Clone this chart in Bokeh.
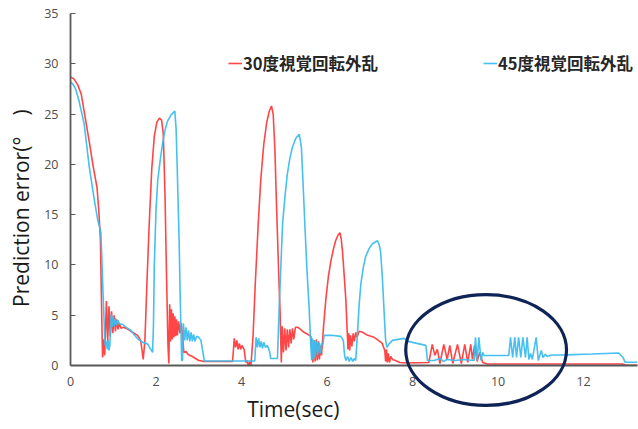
import numpy as np
from bokeh.plotting import figure
from bokeh.models import Range1d, FixedTicker, Legend, LegendItem
from bokeh.embed import file_html
from bokeh.resources import INLINE

# ---- data ----
red_t = [0.00, 0.08, 0.17, 0.25, 0.35, 0.44, 0.53, 0.62, 0.66, 0.70, 0.73, 0.75, 0.78, 0.80, 0.84, 0.87,
         0.90, 0.93, 0.96, 0.99, 1.02, 1.05, 1.08, 1.11, 1.14, 1.18, 1.24, 1.35, 1.45, 1.57, 1.64, 1.67,
         1.70, 1.74, 1.79, 1.84, 1.90, 1.96, 2.02, 2.08, 2.13, 2.17, 2.21, 2.25, 2.28, 2.30, 2.32, 2.34,
         2.36, 2.38, 2.40, 2.42, 2.44, 2.46, 2.48, 2.50, 2.53, 2.56, 2.59, 2.62, 2.65, 2.70, 2.75, 2.85,
         3.00, 3.13, 3.50, 3.79, 3.83, 3.86, 3.89, 3.92, 3.95, 3.98, 4.01, 4.06, 4.10, 4.12, 4.16, 4.19,
         4.22, 4.27, 4.32, 4.39, 4.45, 4.52, 4.59, 4.65, 4.70, 4.74, 4.78, 4.81, 4.84, 4.87, 4.90, 4.93,
         4.95, 4.98, 5.01, 5.04, 5.07, 5.10, 5.13, 5.16, 5.19, 5.22, 5.26, 5.31, 5.38, 5.46, 5.55, 5.62,
         5.65, 5.67, 5.70, 5.72, 5.75, 5.77, 5.80, 5.82, 5.85, 5.87, 5.92, 5.97, 6.03, 6.09, 6.15, 6.20,
         6.26, 6.30, 6.33, 6.36, 6.40, 6.44, 6.47, 6.49, 6.51, 6.53, 6.55, 6.58, 6.61, 6.64, 6.67, 6.70,
         6.75, 6.83, 6.95, 7.10, 7.20, 7.29, 7.35, 7.37, 7.39, 7.41, 7.43, 7.46, 7.49, 7.53, 7.60, 7.70,
         7.88, 8.38, 8.46, 8.52, 8.58, 8.64, 8.73, 8.81, 8.87, 8.94, 9.05, 9.14, 9.22, 9.29, 9.36, 9.40,
         9.45, 9.51, 9.57, 9.64, 9.75, 12.90, 13.00, 13.26]
red_y = [28.7, 28.5, 27.9, 27.0, 24.5, 22.2, 19.8, 17.7, 15.5, 12.5, 5.0, 0.8, 2.6, 1.0, 6.4, 2.4,
         5.9, 2.9, 5.4, 3.2, 5.0, 3.4, 4.6, 3.6, 4.2, 3.7, 3.8, 3.6, 3.3, 3.0, 2.5, 1.6,
         0.6, 2.5, 8.5, 14.0, 19.5, 22.8, 24.2, 24.6, 24.4, 23.0, 17.0, 8.0, 2.0, 0.2, 6.1, 2.4,
         5.6, 2.6, 5.2, 2.8, 4.9, 2.9, 4.6, 3.0, 4.4, 3.2, 4.2, 3.0, 1.3, 1.4, 1.1, 0.9,
         0.5, 0.4, 0.4, 0.4, 2.7, 1.8, 2.5, 1.6, 2.2, 1.6, 2.0, 1.6, 0.3, 0.5, 0.0, 0.4,
         0.0, 3.0, 8.0, 14.1, 18.5, 22.0, 24.2, 25.3, 25.8, 25.0, 21.5, 17.0, 13.0, 9.0, 5.5, 0.3,
         3.9, 1.3, 3.7, 1.5, 3.6, 1.8, 3.6, 2.2, 3.7, 2.6, 3.8, 3.8, 3.6, 3.3, 3.1, 2.9,
         1.5, 0.3, 2.5, 0.4, 2.6, 0.5, 2.4, 0.6, 2.0, 1.0, 4.0, 6.5, 8.8, 10.4, 11.6, 12.4,
         13.0, 13.2, 12.6, 11.4, 9.0, 6.5, 3.5, 1.6, 3.2, 1.5, 3.0, 1.9, 3.2, 2.4, 3.3, 2.8,
         3.4, 3.3, 3.0, 2.8, 2.5, 2.2, 1.5, 0.4, 1.6, 0.3, 1.2, 0.3, 0.9, 0.6, 0.5, 0.3,
         0.25, 0.3, 2.1, 1.0, 1.6, 0.2, 2.1, 0.6, 2.0, 0.2, 2.1, 0.2, 2.1, 0.3, 2.1, 0.6,
         2.0, 0.4, 1.3, 0.3, 0.15, 0.15, 0.02, 0.02]

blue_t = [0.00, 0.05, 0.12, 0.20, 0.32, 0.44, 0.56, 0.64, 0.68, 0.71, 0.73, 0.75, 0.78, 0.81, 0.84, 0.86,
          0.88, 0.90, 0.92, 0.95, 0.97, 0.99, 1.02, 1.05, 1.08, 1.11, 1.15, 1.22, 1.30, 1.41, 1.50, 1.57,
          1.69, 1.80, 1.85, 1.92, 1.94, 1.96, 2.00, 2.04, 2.10, 2.15, 2.21, 2.27, 2.35, 2.44, 2.47, 2.50,
          2.54, 2.57, 2.60, 2.62, 2.64, 2.67, 2.70, 2.73, 2.76, 2.79, 2.82, 2.85, 2.88, 2.91, 2.95, 3.00,
          3.05, 3.09, 3.13, 3.50, 4.31, 4.34, 4.37, 4.40, 4.43, 4.46, 4.49, 4.52, 4.56, 4.60, 4.65, 4.68,
          4.84, 4.88, 4.96, 5.02, 5.07, 5.13, 5.19, 5.27, 5.35, 5.40, 5.44, 5.48, 5.53, 5.58, 5.62, 5.64,
          5.66, 5.68, 5.70, 5.72, 5.75, 5.78, 5.81, 5.84, 5.87, 5.90, 5.93, 6.10, 6.32, 6.38, 6.41, 6.44,
          6.48, 6.52, 6.56, 6.60, 6.64, 6.67, 6.71, 6.75, 6.79, 6.85, 6.90, 6.98, 7.06, 7.18, 7.22, 7.25,
          7.29, 7.32, 7.35, 7.37, 7.40, 7.45, 7.53, 7.72, 7.80, 7.90, 8.10, 8.31, 8.35, 8.50, 8.65, 8.72,
          8.80, 9.00, 9.20, 9.44, 9.47, 9.51, 9.55, 9.60, 9.64, 9.67, 10.25, 10.29, 10.34, 10.39, 10.43, 10.48,
          10.53, 10.58, 10.64, 10.68, 10.72, 10.76, 10.80, 10.89, 10.94, 11.01, 11.05, 11.10, 11.15, 11.25, 11.57, 12.20,
          12.82, 12.92, 12.97, 13.26]
blue_y = [28.2, 28.0, 27.5, 26.3, 24.0, 19.7, 16.4, 14.4, 13.8, 13.2, 11.0, 8.5, 5.0, 2.0, 2.4, 1.6,
          2.5, 1.5, 2.0, 5.1, 3.8, 4.9, 3.9, 4.7, 4.0, 4.5, 4.1, 4.1, 3.8, 3.5, 3.0, 2.65,
          2.3, 2.15, 1.8, 1.3, 4.0, 10.0, 15.5, 18.4, 20.5, 22.0, 23.4, 24.3, 24.9, 25.3, 23.5, 19.0,
          12.4, 6.0, 0.5, 0.5, 4.2, 2.5, 3.8, 2.5, 3.5, 2.4, 3.3, 2.4, 3.1, 2.4, 2.9, 2.8,
          2.5, 1.5, 0.45, 0.45, 0.45, 2.8, 1.8, 2.7, 1.8, 2.4, 1.7, 2.3, 1.8, 2.0, 1.5, 0.7,
          0.7, 5.8, 14.1, 17.0, 19.0, 20.6, 21.7, 22.6, 23.0, 21.7, 18.0, 14.1, 9.5, 5.8, 2.0, 0.5,
          2.7, 0.6, 2.5, 0.8, 2.4, 1.0, 2.3, 1.2, 2.2, 2.0, 3.0, 3.0, 2.9, 2.5, 1.0, 0.5,
          0.9, 0.4, 0.8, 0.4, 0.7, 0.5, 3.1, 6.0, 8.1, 9.8, 10.8, 11.6, 12.1, 12.4, 12.0, 11.4,
          9.0, 6.5, 4.0, 2.5, 1.8, 2.15, 2.5, 2.65, 2.7, 2.4, 2.2, 2.0, 0.5, 0.5, 0.7, 0.4,
          0.6, 0.5, 0.6, 0.5, 2.8, 0.5, 2.8, 0.5, 1.3, 1.0, 1.0, 2.8, 0.8, 2.8, 0.8, 2.8,
          0.8, 2.8, 0.8, 2.8, 0.6, 1.2, 0.6, 2.8, 0.5, 1.5, 0.8, 1.1, 0.9, 1.05, 1.06, 1.15,
          1.25, 0.8, 0.33, 0.33]

series_names = ["30度視覚回転外乱", "45度視覚回転外乱"]
x_ticks = [0, 2, 4, 6, 8, 10, 12]
y_ticks = [0, 5, 10, 15, 20, 25, 30, 35]

# highlighted region (ellipse) in data units
ell_cx, ell_cy, ell_w, ell_h = 9.72, 1.54, 3.76, 11.0

RED = "#ff3b3b"
BLUE = "#3cbdee"
NAVY = "#0e2356"
AXIS = "#595959"

p = figure(width=638, height=429, output_backend="svg", toolbar_location=None,
           x_range=Range1d(0, 13.26), y_range=Range1d(0, 35),
           min_border_left=70, min_border_right=1, min_border_top=13, min_border_bottom=64)
p.outline_line_color = None
p.grid.visible = False
p.background_fill_color = "white"

r_red = p.line(red_t, red_y, line_color=RED, line_width=1.6, line_alpha=0.95)
r_blue = p.line(blue_t, blue_y, line_color=BLUE, line_width=1.6, line_alpha=0.95)

p.ellipse(x=[ell_cx], y=[ell_cy], width=ell_w, height=ell_h, fill_alpha=0,
          line_color=NAVY, line_width=3.2, level="overlay")

for ax in (p.xaxis[0], p.yaxis[0]):
    ax.axis_line_color = AXIS
    ax.axis_line_width = 1.8
    ax.major_tick_line_color = AXIS
    ax.minor_tick_line_color = None
    ax.major_label_text_font = "Open Sans"
    ax.major_label_text_font_size = "12.5px"
    ax.major_label_text_color = "#4d4d4d"
    ax.axis_label_text_font = "Open Sans"
    ax.axis_label_text_font_size = "21px"
    ax.axis_label_text_font_style = "normal"
    ax.axis_label_text_color = "#1a1a1a"

p.xaxis.ticker = FixedTicker(ticks=x_ticks)
p.yaxis.ticker = FixedTicker(ticks=y_ticks)
p.xaxis.major_tick_in = 0
p.xaxis.major_tick_out = 0
p.yaxis.major_tick_in = 5
p.yaxis.major_tick_out = 0
p.xaxis.major_label_standoff = 11
p.yaxis.major_label_standoff = 12
p.yaxis.axis_label = "Prediction error(°\u3000)\u3000\u00a0\u00a0\u00a0"
p.yaxis.axis_label_standoff = 6
p.xaxis.axis_label = "Time(sec)" + "\u3000" * 5 + "\u00a0\u00a0\u00a0"
p.xaxis.axis_label_standoff = 6

for r, name, xloc in ((r_red, series_names[0], 158), (r_blue, series_names[1], 413)):
    lg = Legend(items=[LegendItem(label=name, renderers=[r])], location=(xloc, 290),
                glyph_width=14, glyph_height=20, label_standoff=1, padding=0, margin=0,
                border_line_alpha=0, background_fill_alpha=0,
                label_text_font="Noto Sans CJK JP", label_text_font_style="bold",
                label_text_font_size="16.5px", label_text_color="#262626")
    p.add_layout(lg)

open("out.html", "w").write(file_html(p, INLINE))
